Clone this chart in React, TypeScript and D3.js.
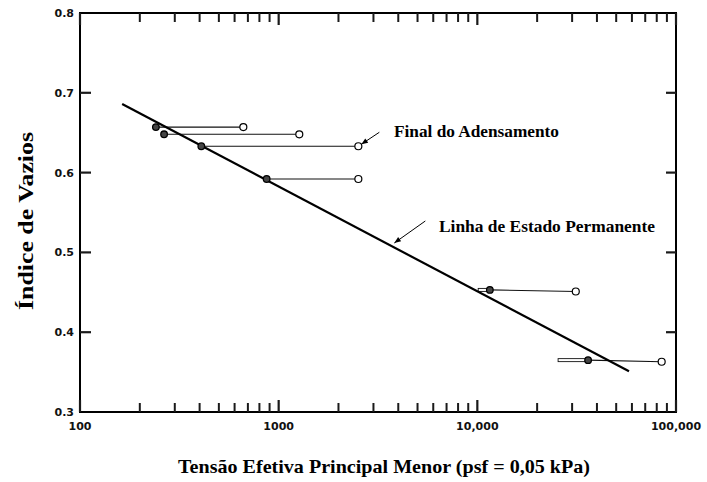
import React from "react";
import * as d3 from "d3";

// ---- data ----
const yTicks = [0.3, 0.4, 0.5, 0.6, 0.7, 0.8];
const yTickLabels = ["0.3", "0.4", "0.5", "0.6", "0.7", "0.8"];
const xMajorTicks = [100, 1000, 10000, 100000];
const xTickLabels = ["100", "1000", "10,000", "100,000"];
const xMinorTicks = [
  200, 300, 400, 500, 600, 700, 800, 900,
  2000, 3000, 4000, 5000, 6000, 7000, 8000, 9000,
  20000, 30000, 40000, 50000, 60000, 70000, 80000, 90000,
];

// end of consolidation (open) and steady state (filled) points
const filledX = [241, 265, 408, 870, 11560, 36100];
const filledY = [0.657, 0.648, 0.633, 0.592, 0.453, 0.365];
const openX = [664, 1270, 2518, 2518, 31300, 84700];
const openY = [0.657, 0.648, 0.633, 0.592, 0.451, 0.363];
const lowX = [null, null, null, null, 10100, 25500];

// steady state line
const sslX = [163, 58000];
const sslY = [0.686, 0.351];

const annoFinal = "Final do Adensamento";
const annoLinha = "Linha de Estado Permanente";
const xTitle = "Tensão Efetiva Principal Menor (psf = 0,05 kPa)";
const yTitle = "Índice de Vazios";

const W = 707;
const H = 482;

export default function App() {
  const x = d3.scaleLog().domain([100, 100000]).range([80, 676]);
  const y = d3.scaleLinear().domain([0.3, 0.8]).range([412, 13]);

  const sslPath = d3
    .line<number>()
    .x((_, i) => x(sslX[i]))
    .y((_, i) => y(sslY[i]));

  const serif = "'Liberation Serif', 'Times New Roman', serif";
  const sans = "'DejaVu Sans', sans-serif";

  const tipF = [x(openX[2]) + 3, y(openY[2]) - 2];
  const tailF = [tipF[0] + 18, tipF[1] - 12];
  const tLine = 0.535;
  const lxv = Math.pow(10, Math.log10(sslX[0]) + tLine * (Math.log10(sslX[1]) - Math.log10(sslX[0])));
  const lyv = sslY[0] + tLine * (sslY[1] - sslY[0]);
  const tipL = [x(lxv) + 1, y(lyv) - 4];
  const tailL = [tipL[0] + 31, tipL[1] - 22];

  const xL = x(100);
  const xR = x(100000);
  const yB = y(0.3);
  const yT = y(0.8);
  const innerY = yTicks.filter((t) => t > 0.35 && t < 0.75);

  const tickCol = "#1a1a1a";

  return (
    <svg width={W} height={H} style={{ position: "absolute", left: 0, top: 0 }}>
      {/* frame */}
      <rect x={xL} y={yT} width={xR - xL} height={yB - yT} fill="none" stroke="#000" strokeWidth={2} />

      {/* ticks */}
      {innerY.map((t, i) => (
        <line key={"yl" + i} x1={xL} x2={xL + 11} y1={y(t)} y2={y(t)} stroke={tickCol} strokeWidth={2.2} />
      ))}
      {innerY.map((t, i) => (
        <line key={"yr" + i} x1={xR} x2={xR - 10} y1={y(t)} y2={y(t)} stroke={tickCol} strokeWidth={2.2} />
      ))}
      {xMinorTicks.map((t, i) => (
        <line key={"xmb" + i} x1={x(t)} x2={x(t)} y1={yB} y2={yB - 9} stroke={tickCol} strokeWidth={2} />
      ))}
      {xMinorTicks.map((t, i) => (
        <line key={"xmt" + i} x1={x(t)} x2={x(t)} y1={yT} y2={yT + 9} stroke={tickCol} strokeWidth={2} />
      ))}
      {xMajorTicks.map((t, i) => (
        <line key={"xMb" + i} x1={x(t)} x2={x(t)} y1={yB} y2={yB - 12} stroke={tickCol} strokeWidth={2.2} />
      ))}
      {xMajorTicks.map((t, i) => (
        <line key={"xMt" + i} x1={x(t)} x2={x(t)} y1={yT} y2={yT + 12} stroke={tickCol} strokeWidth={2.2} />
      ))}

      {/* y tick labels */}
      {yTicks.map((t, i) => (
        <text
          key={"ytl" + i}
          x={xL - 6}
          y={y(t)}
          dy="0.36em"
          textAnchor="end"
          fontFamily={sans}
          fontWeight="bold"
          fontSize={11}
          fill="#111"
        >
          {yTickLabels[i]}
        </text>
      ))}

      {/* x tick labels */}
      {xMajorTicks.map((t, i) => (
        <text
          key={"xtl" + i}
          x={x(t)}
          y={yB + 18}
          textAnchor="middle"
          fontFamily={sans}
          fontWeight="bold"
          fontSize={11}
          fill="#111"
        >
          {xTickLabels[i]}
        </text>
      ))}

      {/* connecting lines */}
      {filledX.map((fx, i) => (
        <line
          key={"c" + i}
          x1={x(fx)}
          y1={y(filledY[i])}
          x2={x(openX[i])}
          y2={y(openY[i])}
          stroke="#111"
          strokeWidth={1.1}
        />
      ))}

      {/* low range bars */}
      {lowX.map((lx0, i) =>
        lx0 == null ? null : (
          <rect
            key={"lb" + i}
            x={x(lx0)}
            y={y(filledY[i]) - 1.5}
            width={x(filledX[i]) - x(lx0)}
            height={3}
            fill="#fff"
            stroke="#111"
            strokeWidth={0.9}
          />
        )
      )}

      {/* steady state line */}
      <path d={sslPath(sslX) || ""} fill="none" stroke="#000" strokeWidth={2.2} />

      {/* filled points */}
      {filledX.map((fx, i) => (
        <circle key={"f" + i} cx={x(fx)} cy={y(filledY[i])} r={3.3} fill="#444" stroke="#000" strokeWidth={1.3} />
      ))}
      {/* open points */}
      {openX.map((ox, i) => (
        <circle key={"o" + i} cx={x(ox)} cy={y(openY[i])} r={3.5} fill="#fff" stroke="#000" strokeWidth={1.2} />
      ))}

      {/* annotation arrows */}
      {[
        [tailF, tipF],
        [tailL, tipL],
      ].map(([a, b], i) => {
        const ang = Math.atan2(b[1] - a[1], b[0] - a[0]);
        const len = 7;
        const spread = 0.38;
        const p1 = [b[0] - len * Math.cos(ang - spread), b[1] - len * Math.sin(ang - spread)];
        const p2 = [b[0] - len * Math.cos(ang + spread), b[1] - len * Math.sin(ang + spread)];
        return (
          <g key={"ar" + i}>
            <line x1={a[0]} y1={a[1]} x2={b[0]} y2={b[1]} stroke="#000" strokeWidth={1} />
            <path d={`M${b[0]},${b[1]}L${p1[0]},${p1[1]}L${p2[0]},${p2[1]}Z`} fill="#000" />
          </g>
        );
      })}

      <text x={394} y={137} fontFamily={serif} fontWeight="bold" fontSize={17} textLength={165} lengthAdjust="spacingAndGlyphs">
        {annoFinal}
      </text>
      <text x={439} y={232} fontFamily={serif} fontWeight="bold" fontSize={17} textLength={216} lengthAdjust="spacingAndGlyphs">
        {annoLinha}
      </text>

      {/* axis titles */}
      <text x={384} y={473} textAnchor="middle" fontFamily={serif} fontWeight="bold" fontSize={19} textLength={412} lengthAdjust="spacingAndGlyphs">
        {xTitle}
      </text>
      <text
        transform="translate(33,221) rotate(-90)"
        textAnchor="middle"
        fontFamily={serif}
        fontWeight="bold"
        fontSize={20}
        textLength={178}
        lengthAdjust="spacingAndGlyphs"
      >
        {yTitle}
      </text>
    </svg>
  );
}
